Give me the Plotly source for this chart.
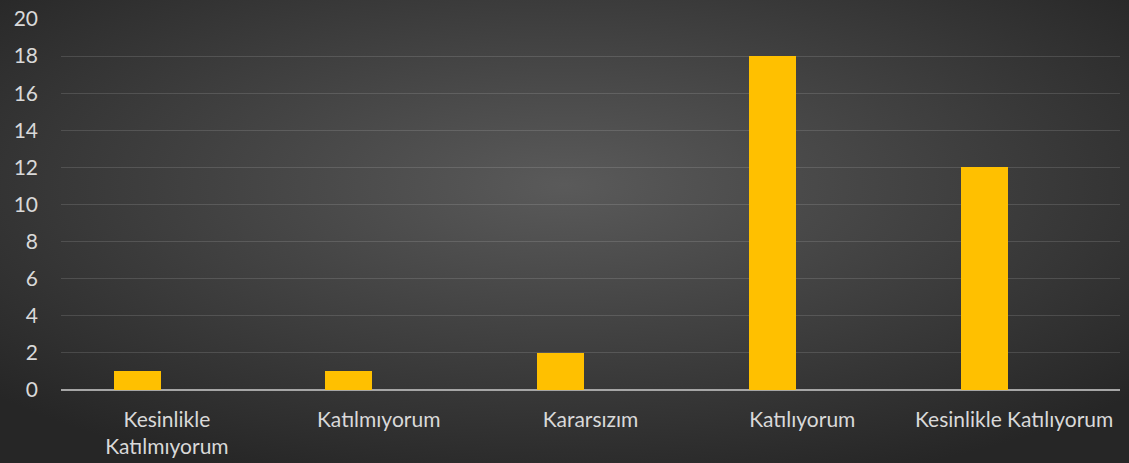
import base64
import plotly.graph_objects as go

categories = ["Kesinlikle<br>Katılmıyorum", "Katılmıyorum", "Kararsızım", "Katılıyorum", "Kesinlikle Katılıyorum"]
values = [1, 1, 2, 18, 12]
y_ticks = [0, 2, 4, 6, 8, 10, 12, 14, 16, 18, 20]

W, H = 1129, 463
ML, MR, MT, MB = 61, 9, 19, 73
pw, ph = W - ML - MR, H - MT - MB

svg = f'''<svg xmlns="http://www.w3.org/2000/svg" width="{W}" height="{H}" viewBox="0 0 {W} {H}" preserveAspectRatio="none">
<defs><radialGradient id="g" cx="0.5" cy="0.4" r="0.68" gradientUnits="objectBoundingBox">
<stop offset="0" stop-color="#5a5a5a"/><stop offset="1" stop-color="#262626"/></radialGradient></defs>
<rect width="{W}" height="{H}" fill="url(#g)"/></svg>'''
src = "data:image/svg+xml;base64," + base64.b64encode(svg.encode()).decode()

fig = go.Figure()
fig.add_trace(go.Bar(
    x=categories, y=values,
    marker=dict(color="#FFC000", line=dict(width=0)),
    width=0.222, offset=-0.252,
))

fig.add_layout_image(dict(
    source=src, xref="paper", yref="paper",
    x=-ML / pw, y=1 + MT / ph, sizex=W / pw, sizey=H / ph,
    xanchor="left", yanchor="top", sizing="stretch", layer="below",
))

fig.update_layout(
    width=W, height=H,
    margin=dict(l=ML, r=MR, t=MT, b=MB, autoexpand=False),
    paper_bgcolor="#2c2c2c",
    plot_bgcolor="rgba(0,0,0,0)",
    font=dict(family="Lato, 'Open Sans', sans-serif", size=21, color="#d9d9d9"),
    showlegend=False,
    bargap=0,
    xaxis=dict(
        automargin=False,
        showgrid=False, showline=False, zeroline=False,
        ticks="", tickfont=dict(size=21, color="#d9d9d9"),
        ticklabelstandoff=15,
    ),
    yaxis=dict(
        automargin=False,
        range=[0, 20], tickvals=y_ticks,
        showgrid=True, gridcolor="rgba(255,255,255,0.13)", gridwidth=1.3,
        zeroline=True, zerolinecolor="#a6a6a6", zerolinewidth=2,
        showline=False, ticks="",
        tickfont=dict(size=21, color="#d9d9d9"),
        ticklabelstandoff=22,
    ),
)

fig.write_html("out.html")
